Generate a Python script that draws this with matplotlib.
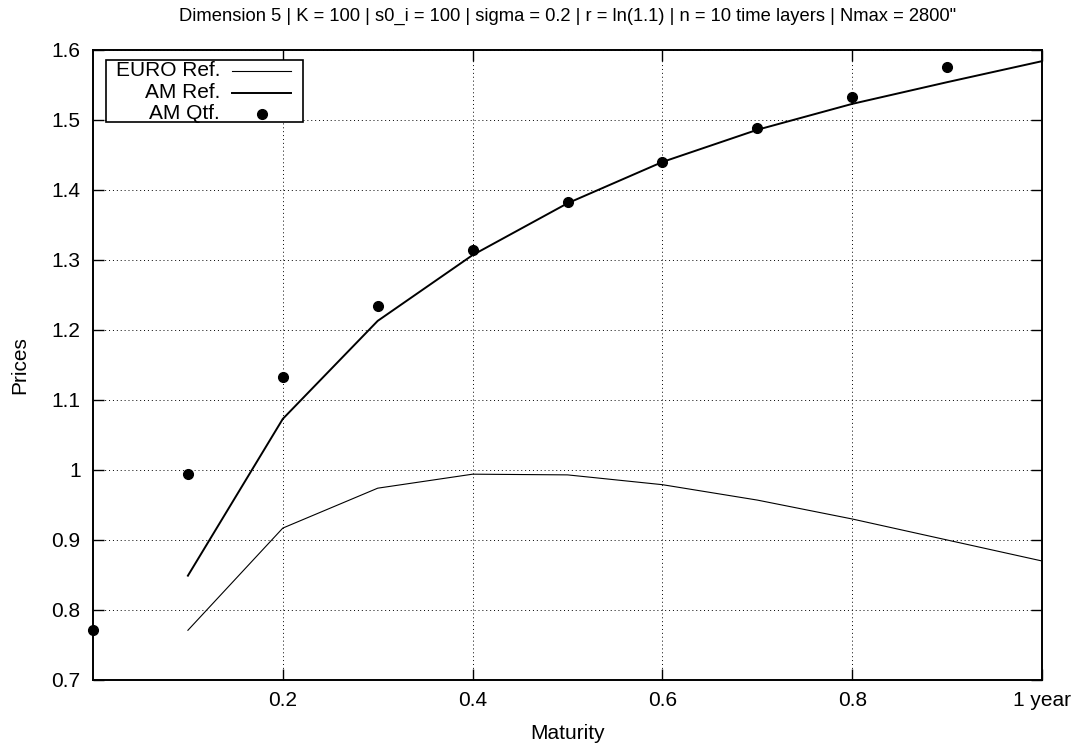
import matplotlib
matplotlib.use("Agg")
import matplotlib.pyplot as plt
from matplotlib.lines import Line2D
from matplotlib.patches import Rectangle

plt.rcParams['font.family'] = ['Liberation Sans', 'DejaVu Sans']

# data
maturity = [0.1, 0.2, 0.3, 0.4, 0.5, 0.6, 0.7, 0.8, 0.9, 1.0]
euro_ref = [0.771, 0.917, 0.974, 0.994, 0.993, 0.979, 0.957, 0.930, 0.900, 0.870]
am_ref = [0.849, 1.073, 1.213, 1.307, 1.381, 1.440, 1.486, 1.523, 1.554, 1.584]
qtf_maturity = [0.0, 0.1, 0.2, 0.3, 0.4, 0.5, 0.6, 0.7, 0.8, 0.9]
am_qtf = [0.771, 0.994, 1.133, 1.234, 1.314, 1.383, 1.440, 1.489, 1.533, 1.576]

xticks = [0.2, 0.4, 0.6, 0.8, 1.0]
xtick_labels = ['0.2', '0.4', '0.6', '0.8', '1 year']
yticks = [0.7, 0.8, 0.9, 1.0, 1.1, 1.2, 1.3, 1.4, 1.5, 1.6]
ytick_labels = ['0.7', '0.8', '0.9', '1', '1.1', '1.2', '1.3', '1.4', '1.5', '1.6']

title = 'Dimension 5 | K = 100 | s0_i = 100 | sigma = 0.2 | r = ln(1.1) | n = 10 time layers | Nmax = 2800"'

fig = plt.figure(figsize=(10.79, 7.46), dpi=100)
ax = fig.add_axes([0.0862, 0.0885, 0.8795, 0.8445])

ax.plot(maturity, euro_ref, color='black', lw=0.8)
ax.plot(maturity, am_ref, color='black', lw=1.4)
ax.plot(qtf_maturity, am_qtf, 'o', color='black', ms=7, clip_on=False)

ax.set_xlim(0, 1)
ax.set_ylim(0.7, 1.6)
ax.set_xticks(xticks)
ax.set_xticklabels(xtick_labels)
ax.set_yticks(yticks)
ax.set_yticklabels(ytick_labels)
ax.tick_params(direction='in', length=8, width=1, top=True, right=True,
               labelsize=15)
ax.tick_params(axis='x', pad=8)
ax.tick_params(axis='y', pad=9)
ax.grid(True, linestyle=(0, (1, 3)), color='black', lw=0.7)
for s in ax.spines.values():
    s.set_linewidth(1.4)

ax.set_xlabel('Maturity', fontsize=15, labelpad=10)
ax.set_ylabel('Prices', fontsize=15, labelpad=16)
ax.set_title(title, fontsize=13.2, pad=21)

# gnuplot-like legend: right-aligned text, sample on the right
ax.add_patch(Rectangle((0.0137, 0.886), 0.208, 0.098, transform=ax.transAxes,
                       facecolor='white', edgecolor='black', lw=1.2, zorder=5))
names = ['EURO Ref.', 'AM Ref.', 'AM Qtf.']
rows = [0.967, 0.932, 0.899]
for name, yy in zip(names, rows):
    ax.text(0.134, yy, name, transform=ax.transAxes, ha='right', va='center',
            fontsize=15, zorder=6)
ax.add_line(Line2D([0.146, 0.209], [rows[0]] * 2, transform=ax.transAxes,
                   color='black', lw=0.8, zorder=6))
ax.add_line(Line2D([0.146, 0.209], [rows[1]] * 2, transform=ax.transAxes,
                   color='black', lw=1.4, zorder=6))
ax.add_line(Line2D([0.178], [rows[2]], transform=ax.transAxes, marker='o',
                   color='black', ms=7, zorder=6))

fig.savefig('out.png', dpi=100)
